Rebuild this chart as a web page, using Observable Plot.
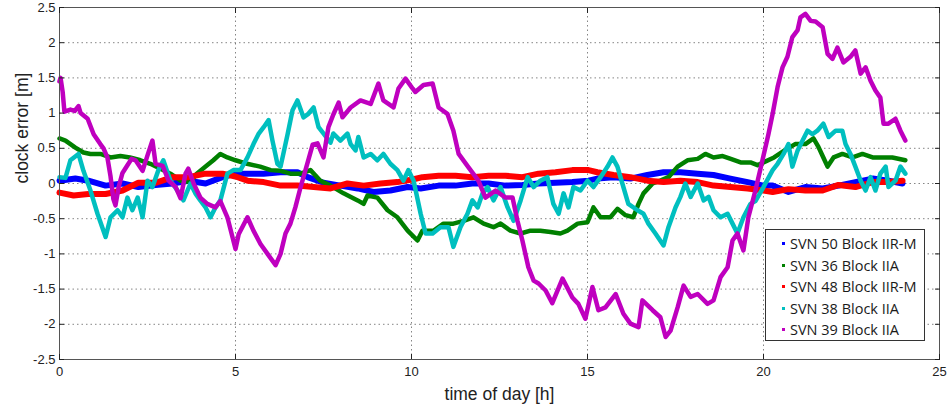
<!DOCTYPE html>
<html>
<head>
<meta charset="utf-8">
<script src="https://cdn.jsdelivr.net/npm/d3@7"></script>
<script src="https://cdn.jsdelivr.net/npm/@observablehq/plot@0.6"></script>
<style>
  html, body { margin: 0; padding: 0; background: #fff; }
  #wrap { position: relative; width: 948px; height: 407px; }
  #wrap svg { position: absolute; left: 0; top: 0; }
  #legend {
    position: absolute; left: 765px; top: 229px; width: 160px; height: 112px;
    border: 1px solid #333; background: #fff; box-sizing: border-box;
    font-family: "Open Sans", sans-serif; font-size: 14.5px; color: #1a1a1a;
    padding-top: 3px;
  }
  #legend .row { display: flex; align-items: center; height: 21.5px; white-space: nowrap; }
  #legend .dot { width: 3px; height: 3px; margin-left: 16px; margin-right: 5px; flex: none; }
</style>
</head>
<body>
<div id="wrap"></div>
<script>
// ---- tick values ----
const xTicks = [0, 5, 10, 15, 20, 25];
const yTicks = [-2.5, -2, -1.5, -1, -0.5, 0, 0.5, 1, 1.5, 2, 2.5];

// ---- labels ----
const xLabel = "time of day [h]";
const yLabel = "clock error [m]";
const seriesNames = ["SVN 50 Block IIR-M", "SVN 36 Block IIA", "SVN 48 Block IIR-M", "SVN 38 Block IIA", "SVN 39 Block IIA"];

// ---- series values: [time of day (h), clock error (m)] ----
const svn50 = [[0,0.04],[0.45,0.07],[0.82,0.04],[1.31,-0.03],[1.79,0.0],[2.24,-0.05],[2.73,-0.02],[3.21,0.0],[3.66,0.04],[4.15,0.0],[4.63,0.09],[5.0,0.14],[5.34,0.14],[5.8,0.14],[6.28,0.16],[6.76,0.16],[7.05,0.09],[7.5,0.01],[7.98,-0.03],[8.47,-0.07],[8.92,-0.12],[9.4,-0.1],[9.89,-0.05],[10.26,-0.07],[10.77,-0.03],[11.25,-0.03],[11.73,0.0],[12.19,0.0],[12.67,-0.03],[13.15,-0.02],[13.61,0.0],[14.09,0.01],[14.57,0.02],[15.03,0.04],[15.28,0.07],[15.74,0.09],[16.22,0.07],[16.7,0.12],[17.16,0.16],[17.64,0.16],[18.13,0.14],[18.58,0.12],[19.06,0.07],[19.55,0.02],[20.0,-0.03],[20.26,-0.03],[20.71,-0.12],[21.19,-0.05],[21.68,-0.07],[22.13,-0.03],[22.61,0.02],[23.1,0.07],[23.55,0.04],[23.95,0.0]];

const svn36 = [[0,0.64],[0.17,0.61],[0.45,0.51],[0.68,0.44],[0.88,0.42],[1.16,0.42],[1.45,0.37],[1.73,0.39],[2.0,0.37],[2.3,0.33],[2.58,0.28],[2.87,0.21],[3.15,0.14],[3.44,0.04],[3.72,0.02],[3.9,0.14],[4.15,0.24],[4.37,0.33],[4.57,0.42],[4.77,0.37],[5.0,0.33],[5.33,0.28],[5.7,0.24],[6.0,0.19],[6.28,0.18],[6.56,0.14],[6.85,0.14],[7.13,0.19],[7.41,0.04],[7.7,-0.03],[8.07,-0.14],[8.47,-0.24],[8.64,-0.29],[8.75,-0.17],[9.03,-0.2],[9.32,-0.38],[9.6,-0.48],[9.89,-0.67],[10.17,-0.81],[10.31,-0.67],[10.45,-0.67],[10.63,-0.67],[10.91,-0.57],[11.19,-0.57],[11.48,-0.53],[11.76,-0.48],[12.05,-0.57],[12.33,-0.62],[12.53,-0.57],[12.81,-0.67],[13.1,-0.71],[13.38,-0.67],[13.66,-0.67],[13.95,-0.69],[14.23,-0.71],[14.43,-0.67],[14.72,-0.57],[15.0,-0.55],[15.17,-0.34],[15.37,-0.48],[15.65,-0.48],[15.85,-0.36],[16.08,-0.45],[16.3,-0.48],[16.45,-0.29],[16.59,-0.14],[16.85,0.0],[17.07,0.04],[17.3,0.09],[17.56,0.24],[17.84,0.33],[18.13,0.35],[18.35,0.42],[18.58,0.37],[18.84,0.39],[19.07,0.35],[19.35,0.3],[19.63,0.3],[19.83,0.26],[20.0,0.3],[20.3,0.37],[20.6,0.47],[20.9,0.56],[21.19,0.56],[21.42,0.64],[21.56,0.52],[21.7,0.37],[21.82,0.24],[21.99,0.37],[22.24,0.42],[22.53,0.37],[22.81,0.42],[23.1,0.37],[23.38,0.37],[23.66,0.37],[24.03,0.33]];

const svn48 = [[0,-0.13],[0.4,-0.17],[0.82,-0.15],[1.31,-0.15],[1.79,-0.1],[2.24,0.01],[2.73,0.01],[3.21,0.09],[3.66,0.09],[4.15,0.14],[4.63,0.14],[5.0,0.1],[5.34,0.04],[5.8,0.02],[6.28,-0.03],[6.76,-0.03],[7.22,-0.05],[7.7,-0.07],[8.18,0.0],[8.64,-0.03],[9.12,0.0],[9.6,0.02],[10.06,0.06],[10.31,0.09],[10.77,0.11],[11.25,0.11],[11.73,0.09],[12.19,0.11],[12.67,0.11],[13.15,0.09],[13.61,0.14],[14.09,0.16],[14.57,0.19],[15.03,0.19],[15.28,0.16],[15.74,0.12],[16.22,0.09],[16.7,0.04],[17.16,0.02],[17.64,0.04],[18.13,0.02],[18.58,-0.03],[19.06,-0.05],[19.55,-0.07],[20.0,-0.1],[20.26,-0.12],[20.71,-0.08],[21.19,-0.1],[21.68,-0.1],[22.13,-0.02],[22.61,-0.05],[23.1,0.02],[23.55,0.02],[23.95,0.04]];

const svn38 = [[0,0.09],[0.17,0.08],[0.31,0.33],[0.54,0.42],[0.68,0.18],[0.88,-0.1],[1.08,-0.43],[1.31,-0.76],[1.45,-0.48],[1.65,-0.38],[1.79,-0.48],[1.93,-0.2],[2.07,-0.38],[2.22,-0.2],[2.36,-0.48],[2.5,0.04],[2.64,-0.05],[2.81,0.19],[2.95,0.33],[3.15,0.04],[3.35,-0.1],[3.52,-0.24],[3.72,0.0],[3.86,-0.14],[4.0,-0.24],[4.15,-0.34],[4.29,-0.48],[4.43,-0.34],[4.57,-0.24],[4.77,0.14],[4.94,0.19],[5.14,0.19],[5.34,0.37],[5.51,0.56],[5.65,0.7],[5.8,0.8],[5.94,0.9],[6.05,0.61],[6.19,0.28],[6.28,0.24],[6.48,0.7],[6.62,1.04],[6.76,1.18],[6.93,0.94],[7.07,0.99],[7.22,1.08],[7.36,0.8],[7.7,0.58],[7.78,0.71],[7.98,0.61],[8.18,0.71],[8.27,0.56],[8.41,0.47],[8.49,0.66],[8.64,0.37],[8.84,0.42],[9.03,0.33],[9.2,0.42],[9.4,0.28],[9.6,0.19],[9.77,0.04],[9.91,0.19],[10.06,0.04],[10.26,-0.43],[10.4,-0.71],[10.6,-0.71],[10.82,-0.62],[11.05,-0.62],[11.19,-0.9],[11.39,-0.62],[11.59,-0.43],[11.73,-0.24],[11.88,-0.34],[12.02,-0.14],[12.16,-0.05],[12.33,-0.24],[12.53,-0.05],[12.73,-0.34],[12.9,-0.53],[13.1,-0.24],[13.3,0.09],[13.47,-0.05],[13.66,0.04],[13.86,0.09],[14.03,-0.29],[14.18,-0.43],[14.32,-0.14],[14.46,-0.34],[14.6,-0.05],[14.8,-0.1],[15.0,0.04],[15.17,-0.05],[15.37,0.09],[15.57,0.24],[15.71,0.37],[15.85,0.24],[15.99,0.0],[16.16,-0.29],[16.42,-0.38],[16.59,-0.43],[16.73,-0.57],[16.93,-0.71],[17.16,-0.88],[17.3,-0.62],[17.5,-0.34],[17.64,-0.19],[17.78,0.0],[17.93,-0.19],[18.13,0.0],[18.3,-0.24],[18.44,-0.19],[18.58,-0.38],[18.78,-0.48],[18.98,-0.43],[19.12,-0.57],[19.26,-0.71],[19.43,-0.48],[19.63,-0.29],[19.77,-0.25],[20.0,-0.05],[20.26,0.19],[20.4,0.28],[20.57,0.42],[20.71,0.56],[20.82,0.24],[20.97,0.47],[21.11,0.61],[21.25,0.75],[21.39,0.7],[21.53,0.75],[21.7,0.85],[21.85,0.66],[22.05,0.75],[22.24,0.75],[22.33,0.56],[22.47,0.42],[22.61,0.24],[22.76,0.04],[22.9,-0.1],[23.04,0.09],[23.18,-0.1],[23.32,0.14],[23.47,0.24],[23.55,-0.05],[23.75,0.04],[23.89,0.24],[24.03,0.14]];

const svn39 = [[0,1.45],[0.03,1.5],[0.09,1.3],[0.14,1.02],[0.31,1.05],[0.43,1.03],[0.54,1.1],[0.6,1.0],[0.8,0.92],[0.97,0.7],[1.16,0.56],[1.25,0.5],[1.36,0.37],[1.45,0.1],[1.53,-0.22],[1.59,-0.31],[1.68,-0.05],[1.79,0.15],[1.93,0.26],[2.05,0.35],[2.16,0.33],[2.36,0.18],[2.5,0.4],[2.64,0.61],[2.73,0.28],[2.93,0.25],[3.1,0.04],[3.3,-0.05],[3.44,-0.21],[3.58,0.14],[3.66,0.21],[3.81,0.0],[4.0,-0.2],[4.2,-0.29],[4.43,-0.34],[4.57,-0.25],[4.77,-0.48],[5.0,-0.93],[5.09,-0.72],[5.34,-0.48],[5.51,-0.67],[5.71,-0.86],[5.91,-1.0],[6.14,-1.16],[6.28,-1.0],[6.42,-0.71],[6.56,-0.57],[6.7,-0.34],[6.85,-0.05],[7.05,0.3],[7.19,0.55],[7.33,0.57],[7.5,0.37],[7.64,0.8],[7.78,0.98],[7.93,1.15],[8.04,0.94],[8.27,1.08],[8.55,1.18],[8.84,1.13],[9.06,1.42],[9.2,1.18],[9.49,1.08],[9.63,1.35],[9.83,1.49],[10.03,1.35],[10.11,1.3],[10.34,1.4],[10.6,1.42],[10.77,1.08],[11.02,0.99],[11.19,0.75],[11.34,0.42],[11.62,0.23],[11.9,0.04],[12.1,-0.2],[12.39,-0.1],[12.67,-0.2],[12.87,-0.2],[13.01,-0.53],[13.15,-0.81],[13.32,-1.19],[13.47,-1.38],[13.61,-1.42],[13.81,-1.52],[14.0,-1.7],[14.29,-1.35],[14.57,-1.62],[14.74,-1.71],[14.94,-1.92],[15.14,-1.47],[15.31,-1.8],[15.51,-1.76],[15.8,-1.57],[16.02,-1.85],[16.22,-1.99],[16.45,-2.04],[16.56,-1.66],[16.85,-1.8],[17.07,-1.9],[17.22,-2.18],[17.36,-2.09],[17.56,-1.76],[17.73,-1.45],[17.93,-1.61],[18.13,-1.57],[18.41,-1.71],[18.58,-1.66],[18.78,-1.33],[18.98,-1.19],[19.12,-0.81],[19.26,-0.71],[19.43,-0.95],[19.57,-0.48],[19.77,-0.1],[19.97,0.33],[20.14,0.7],[20.26,0.99],[20.4,1.37],[20.54,1.65],[20.68,1.8],[20.82,2.08],[20.97,2.18],[21.05,2.36],[21.19,2.41],[21.34,2.31],[21.48,2.3],[21.68,2.22],[21.82,1.84],[21.96,1.77],[22.1,1.93],[22.27,1.72],[22.47,1.8],[22.61,1.89],[22.76,1.56],[22.9,1.65],[23.04,1.46],[23.18,1.32],[23.32,1.22],[23.41,0.85],[23.55,0.85],[23.75,0.92],[23.89,0.75],[24.03,0.61]];

// ---- styling (not data) ----
const seriesData = [svn50, svn36, svn48, svn38, svn39];
const seriesColors = ["#0000ff", "#008000", "#ff0000", "#00bfbf", "#bf00bf"];
const seriesWidths = [6, 4.5, 6, 4.5, 4.5];

const lineMarks = seriesData.map((data, i) =>
  Plot.line(data, {
    x: d => d[0], y: d => d[1],
    stroke: seriesColors[i], strokeWidth: seriesWidths[i],
    strokeLinejoin: "round", strokeLinecap: "round"
  })
);

const fmt = d => String(d);
const chart = Plot.plot({
  width: 948,
  height: 407,
  marginLeft: 59,
  marginRight: 9,
  marginTop: 7,
  marginBottom: 48,
  style: { fontFamily: "Liberation Sans, Arial, sans-serif", fontSize: "13px", color: "#222", background: "#fff" },
  x: { domain: [0, 25] },
  y: { domain: [-2.5, 2.5] },
  marks: [
    Plot.gridX(xTicks.slice(1, -1), { stroke: "#333", strokeOpacity: 0.6, strokeDasharray: "1.5,3" }),
    Plot.gridY(yTicks.slice(1, -1), { stroke: "#333", strokeOpacity: 0.6, strokeDasharray: "1.5,3" }),
    ...lineMarks,
    Plot.frame({ stroke: "#555" }),
    Plot.axisX(xTicks, { anchor: "bottom", tickSize: -5, tickPadding: 12, tickFormat: fmt, fontSize: 13, label: null }),
    Plot.axisX(xTicks, { anchor: "top", tickSize: -5, tickFormat: () => "", label: null }),
    Plot.axisY(yTicks, { anchor: "left", tickSize: -5, tickPadding: 9, tickFormat: fmt, fontSize: 13, label: null }),
    Plot.axisY(yTicks, { anchor: "right", tickSize: -5, tickFormat: () => "", label: null }),
    Plot.text([xLabel], { text: d => d, frameAnchor: "bottom", dy: 35, lineAnchor: "middle", fontSize: 17.5, fill: "#222" }),
    Plot.text([yLabel], { text: d => d, frameAnchor: "left", dx: -37, rotate: -90, lineAnchor: "middle", fontSize: 17.5, fill: "#222" })
  ]
});

const wrap = document.getElementById("wrap");
wrap.appendChild(chart);

const legend = document.createElement("div");
legend.id = "legend";
seriesNames.forEach((name, i) => {
  const row = document.createElement("div");
  row.className = "row";
  const dot = document.createElement("span");
  dot.className = "dot";
  dot.style.background = seriesColors[i];
  const label = document.createElement("span");
  label.textContent = name;
  row.appendChild(dot);
  row.appendChild(label);
  legend.appendChild(row);
});
wrap.appendChild(legend);
</script>
</body>
</html>
